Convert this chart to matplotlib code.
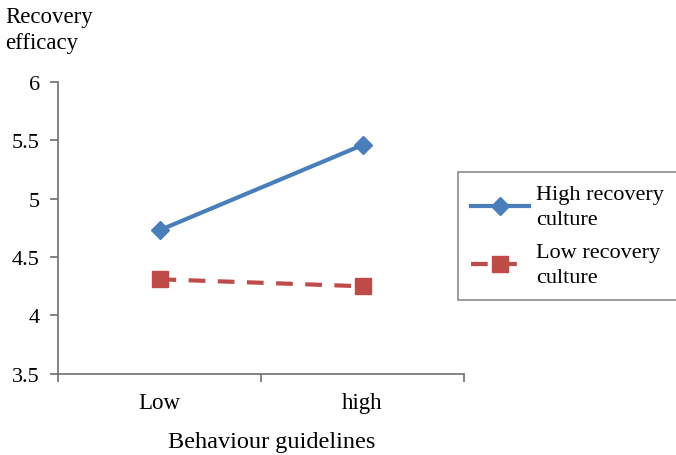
import matplotlib.pyplot as plt

plt.rcParams['font.family'] = ['Liberation Serif', 'DejaVu Serif']

categories = ['Low', 'high']
high_culture = [4.73, 5.46]
low_culture = [4.31, 4.25]
series_names = ['High recovery\nculture', 'Low recovery\nculture']

blue = '#4a7ebb'
red = '#be4b48'
axis_grey = '#6e6e6e'

fig = plt.figure(figsize=(6.76, 4.56), dpi=100)
ax = fig.add_axes([0.0858, 0.178, 0.6006, 0.640])

x = list(range(len(categories)))
ax.plot(x, high_culture, color=blue, lw=3, marker='D', ms=9.5,
        label=series_names[0])
ax.plot(x, low_culture, color=red, lw=3, ls=(0, (4, 3)), marker='s', ms=11.5,
        label=series_names[1])

ax.set_xlim(-0.5, len(categories) - 0.5)
ax.set_ylim(3.5, 6)
ax.set_yticks([3.5, 4, 4.5, 5, 5.5, 6])
ax.set_yticklabels(['3.5', '4', '4.5', '5', '5.5', '6'])
ax.set_xticks(x)
ax.set_xticklabels(categories)
ax.set_xticks([-0.5, 0.5, 1.5], minor=True)
ax.tick_params(axis='x', which='major', length=0, pad=13, labelsize=16.5)
ax.tick_params(axis='x', which='minor', length=6, width=1.2, color=axis_grey)
ax.tick_params(axis='y', length=6, width=1.2, color=axis_grey, labelsize=16, pad=7)

for side in ['top', 'right']:
    ax.spines[side].set_visible(False)
for side in ['left', 'bottom']:
    ax.spines[side].set_color(axis_grey)
    ax.spines[side].set_linewidth(1.2)

ax.set_xlabel('Behaviour guidelines', fontsize=17.5)
ax.xaxis.set_label_coords(0.527, -0.195)
fig.text(0.008, 0.985, 'Recovery\nefficacy', fontsize=16.5, va='top', ha='left',
         linespacing=1.3)

# legend box runs off the right edge of the figure
leg = fig.legend(loc='upper left', bbox_to_anchor=(0.6775, 0.6206, 0.42, 0.0),
                 mode='expand', fontsize=16, handlelength=2.6, frameon=True,
                 fancybox=False, edgecolor=axis_grey, borderpad=0.6,
                 labelspacing=0.65, handletextpad=0.3, borderaxespad=0)
leg.get_frame().set_linewidth(1.2)
for t in leg.get_texts():
    t.set_linespacing(1.4)

fig.savefig('out.png', dpi=100)
